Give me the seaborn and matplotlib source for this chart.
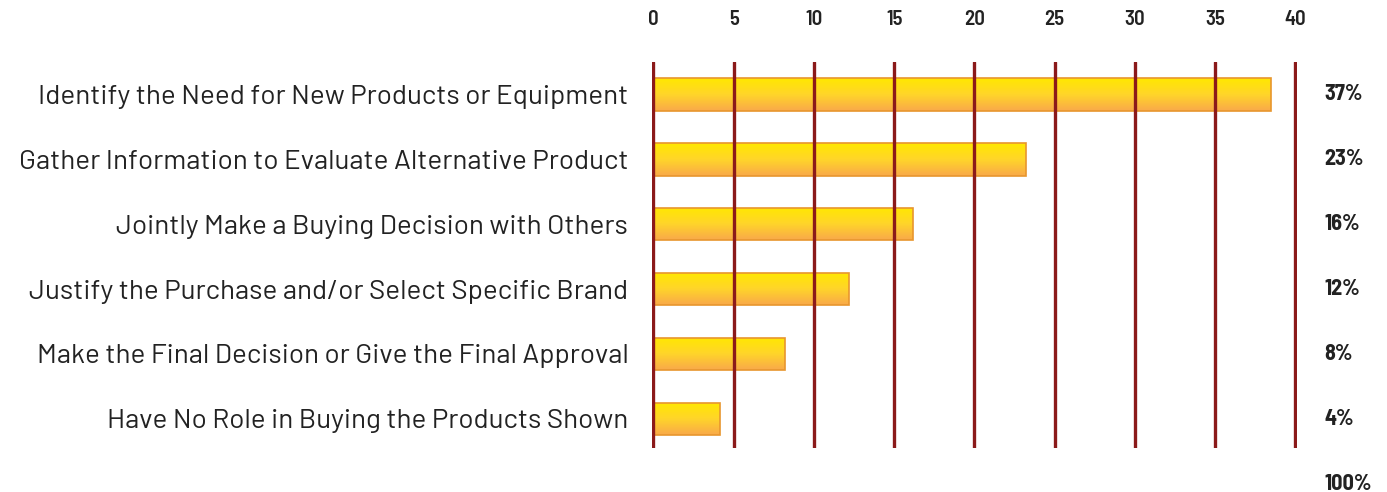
import numpy as np
import pandas as pd
import seaborn as sns
import matplotlib
matplotlib.use("Agg")
import matplotlib.pyplot as plt
import matplotlib.transforms as mtransforms

categories = [
    "Identify the Need for New Products or Equipment",
    "Gather Information to Evaluate Alternative Product",
    "Jointly Make a Buying Decision with Others",
    "Justify the Purchase and/or Select Specific Brand",
    "Make the Final Decision or Give the Final Approval",
    "Have No Role in Buying the Products Shown",
]
bar_values = [38.5, 23.2, 16.2, 12.2, 8.2, 4.15]  # bar lengths as drawn
pct_labels = ["37%", "23%", "16%", "12%", "8%", "4%"]
total_label = "100%"
x_ticks = [0, 5, 10, 15, 20, 25, 30, 35, 40]

sns.set_style("white")
plt.rcParams['font.family'] = ['Barlow', 'DejaVu Sans']
num_font = ['Barlow Semi Condensed', 'DejaVu Sans']

df = pd.DataFrame({"role": categories, "share": bar_values})

fig = plt.figure(figsize=(13.87, 4.92), dpi=100)
ax = fig.add_axes([0.470, 0.0894, 0.465, 0.7846])

sns.barplot(data=df, x="share", y="role", orient="h", width=0.5,
            color="#FFE800", edgecolor="#E8962E", linewidth=1.2, ax=ax, zorder=2)

# gradient fill: yellow on top, orange at bottom
grad = np.linspace(0, 1, 100).reshape(-1, 1)
cmap = matplotlib.colors.LinearSegmentedColormap.from_list("yo", ["#FFE800", "#FFD52A", "#F9A94A"])
for p in ax.patches:
    x0, y0 = p.get_x(), p.get_y()
    w, h = p.get_width(), p.get_height()
    im = ax.imshow(grad, cmap=cmap, aspect="auto", extent=[x0, x0 + w, y0 + h, y0],
                   zorder=2.5, origin="upper")
    im.set_clip_path(p)
    p.set_facecolor("none")
    p.set_zorder(2.6)

for t in x_ticks:
    ax.axvline(t, color="#8B1A1A", linewidth=2.4, zorder=3)

ax.set_xlim(-0.1, 40.1)
ax.set_ylim(5.45, -0.5)
ax.xaxis.tick_top()
ax.set_xticks(x_ticks)
ax.set_xticklabels([str(t) for t in x_ticks], fontsize=15, fontweight=600,
                   color="#222222", family=num_font)
ax.tick_params(axis="x", length=0, pad=24)
ax.tick_params(axis="y", length=0, pad=17, labelsize=20, labelcolor="#222222")
ax.set_xlabel("")
ax.set_ylabel("")
for s in ax.spines.values():
    s.set_visible(False)

trans = mtransforms.blended_transform_factory(ax.transAxes, ax.transData)
for i, lab in enumerate(pct_labels):
    ax.text(1.043, i, lab, transform=trans, ha="left", va="center", family=num_font,
            fontsize=16, fontweight="bold", color="#222222", clip_on=False)
ax.text(1.043, 6.0, total_label, transform=trans, ha="left", va="center", family=num_font,
        fontsize=16, fontweight="bold", color="#222222", clip_on=False)

fig.savefig("out.png", dpi=100)
